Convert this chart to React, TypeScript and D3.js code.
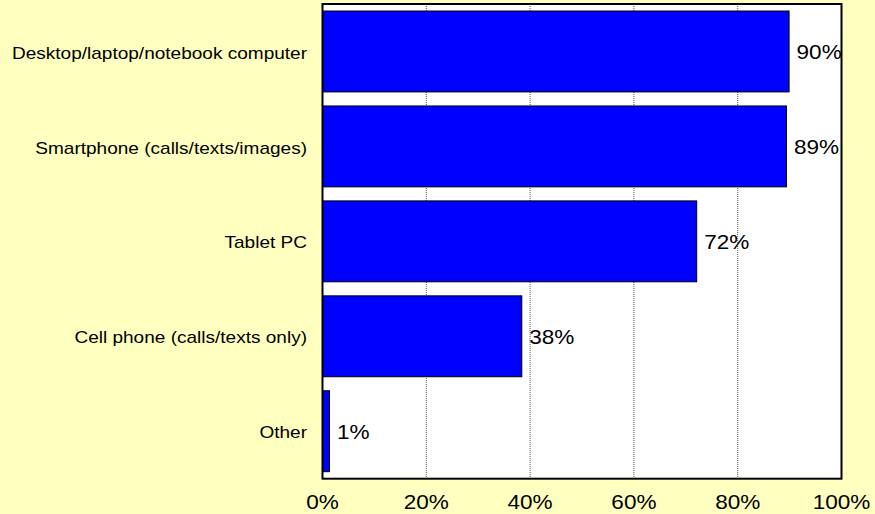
import * as d3 from 'd3';

const categories = [
  'Desktop/laptop/notebook computer',
  'Smartphone (calls/texts/images)',
  'Tablet PC',
  'Cell phone (calls/texts only)',
  'Other',
];
const values = [89.9, 89.4, 72.1, 38.4, 1.35];
const valueLabels = ['90%', '89%', '72%', '38%', '1%'];
const ticks = [0, 20, 40, 60, 80, 100];

const width = 875;
const height = 514;
const plotLeft = 322.5;
const plotRight = 841.5;
const plotTop = 4;
const plotBottom = 478.7;
// the source image is stretched horizontally a bit
const sx = 1.1;
const font = 'Arial, "Liberation Sans", sans-serif';

export default function App() {
  const x = d3.scaleLinear([0, 100], [plotLeft, plotRight]);
  const y = d3
    .scaleBand<string>()
    .domain(categories)
    .range([plotTop, plotBottom])
    .paddingInner(0.148)
    .paddingOuter(0.074);

  return (
    <svg
      width={width}
      height={height}
      style={{ position: 'absolute', left: 0, top: 0, display: 'block' }}
    >
      <defs>
        <clipPath id="plotClip">
          <rect x={plotLeft} y={plotTop} width={plotRight - plotLeft} height={plotBottom - plotTop} />
        </clipPath>
      </defs>
      <rect width={width} height={height} fill="#FFFFC0" />
      <rect x={plotLeft} y={plotTop} width={plotRight - plotLeft} height={plotBottom - plotTop} fill="#fff" />

      {/* grid */}
      <g stroke="#555" strokeWidth={1} strokeDasharray="1,1">
        {ticks.slice(1, -1).map((t) => (
          <line key={t} x1={x(t)} x2={x(t)} y1={plotTop} y2={plotBottom} />
        ))}
      </g>

      {/* bars */}
      <g fill="#0000FF" stroke="#000" strokeWidth={1}>
        {categories.map((c, i) => (
          <rect key={c} x={x(0)} y={y(c)} width={x(values[i]) - x(0)} height={y.bandwidth()} />
        ))}
      </g>

      {/* value labels, clipped to the plot like the original */}
      <g clipPath="url(#plotClip)" fontFamily={font} fontSize={20.5} fill="#000">
        {categories.map((c, i) => (
          <text
            key={c}
            transform={`translate(${x(values[i]) + 7.5},${y(c)! + y.bandwidth() / 2}) scale(${sx},1)`}
            dy="0.36em"
          >
            {valueLabels[i]}
          </text>
        ))}
      </g>

      <rect
        x={plotLeft}
        y={plotTop}
        width={plotRight - plotLeft}
        height={plotBottom - plotTop}
        fill="none"
        stroke="#000"
        strokeWidth={2}
      />

      {/* category labels */}
      <g fontFamily={font} fontSize={17} fill="#000" textAnchor="end">
        {categories.map((c) => (
          <text key={c} transform={`translate(307,${y(c)! + y.bandwidth() / 2 + 1}) scale(1.12,1)`} dy="0.36em">
            {c}
          </text>
        ))}
      </g>

      {/* x tick labels */}
      <g fontFamily={font} fontSize={20.5} fill="#000" textAnchor="middle">
        {ticks.map((t) => (
          <text key={t} transform={`translate(${x(t)},509) scale(${sx},1)`}>
            {t}%
          </text>
        ))}
      </g>
    </svg>
  );
}
